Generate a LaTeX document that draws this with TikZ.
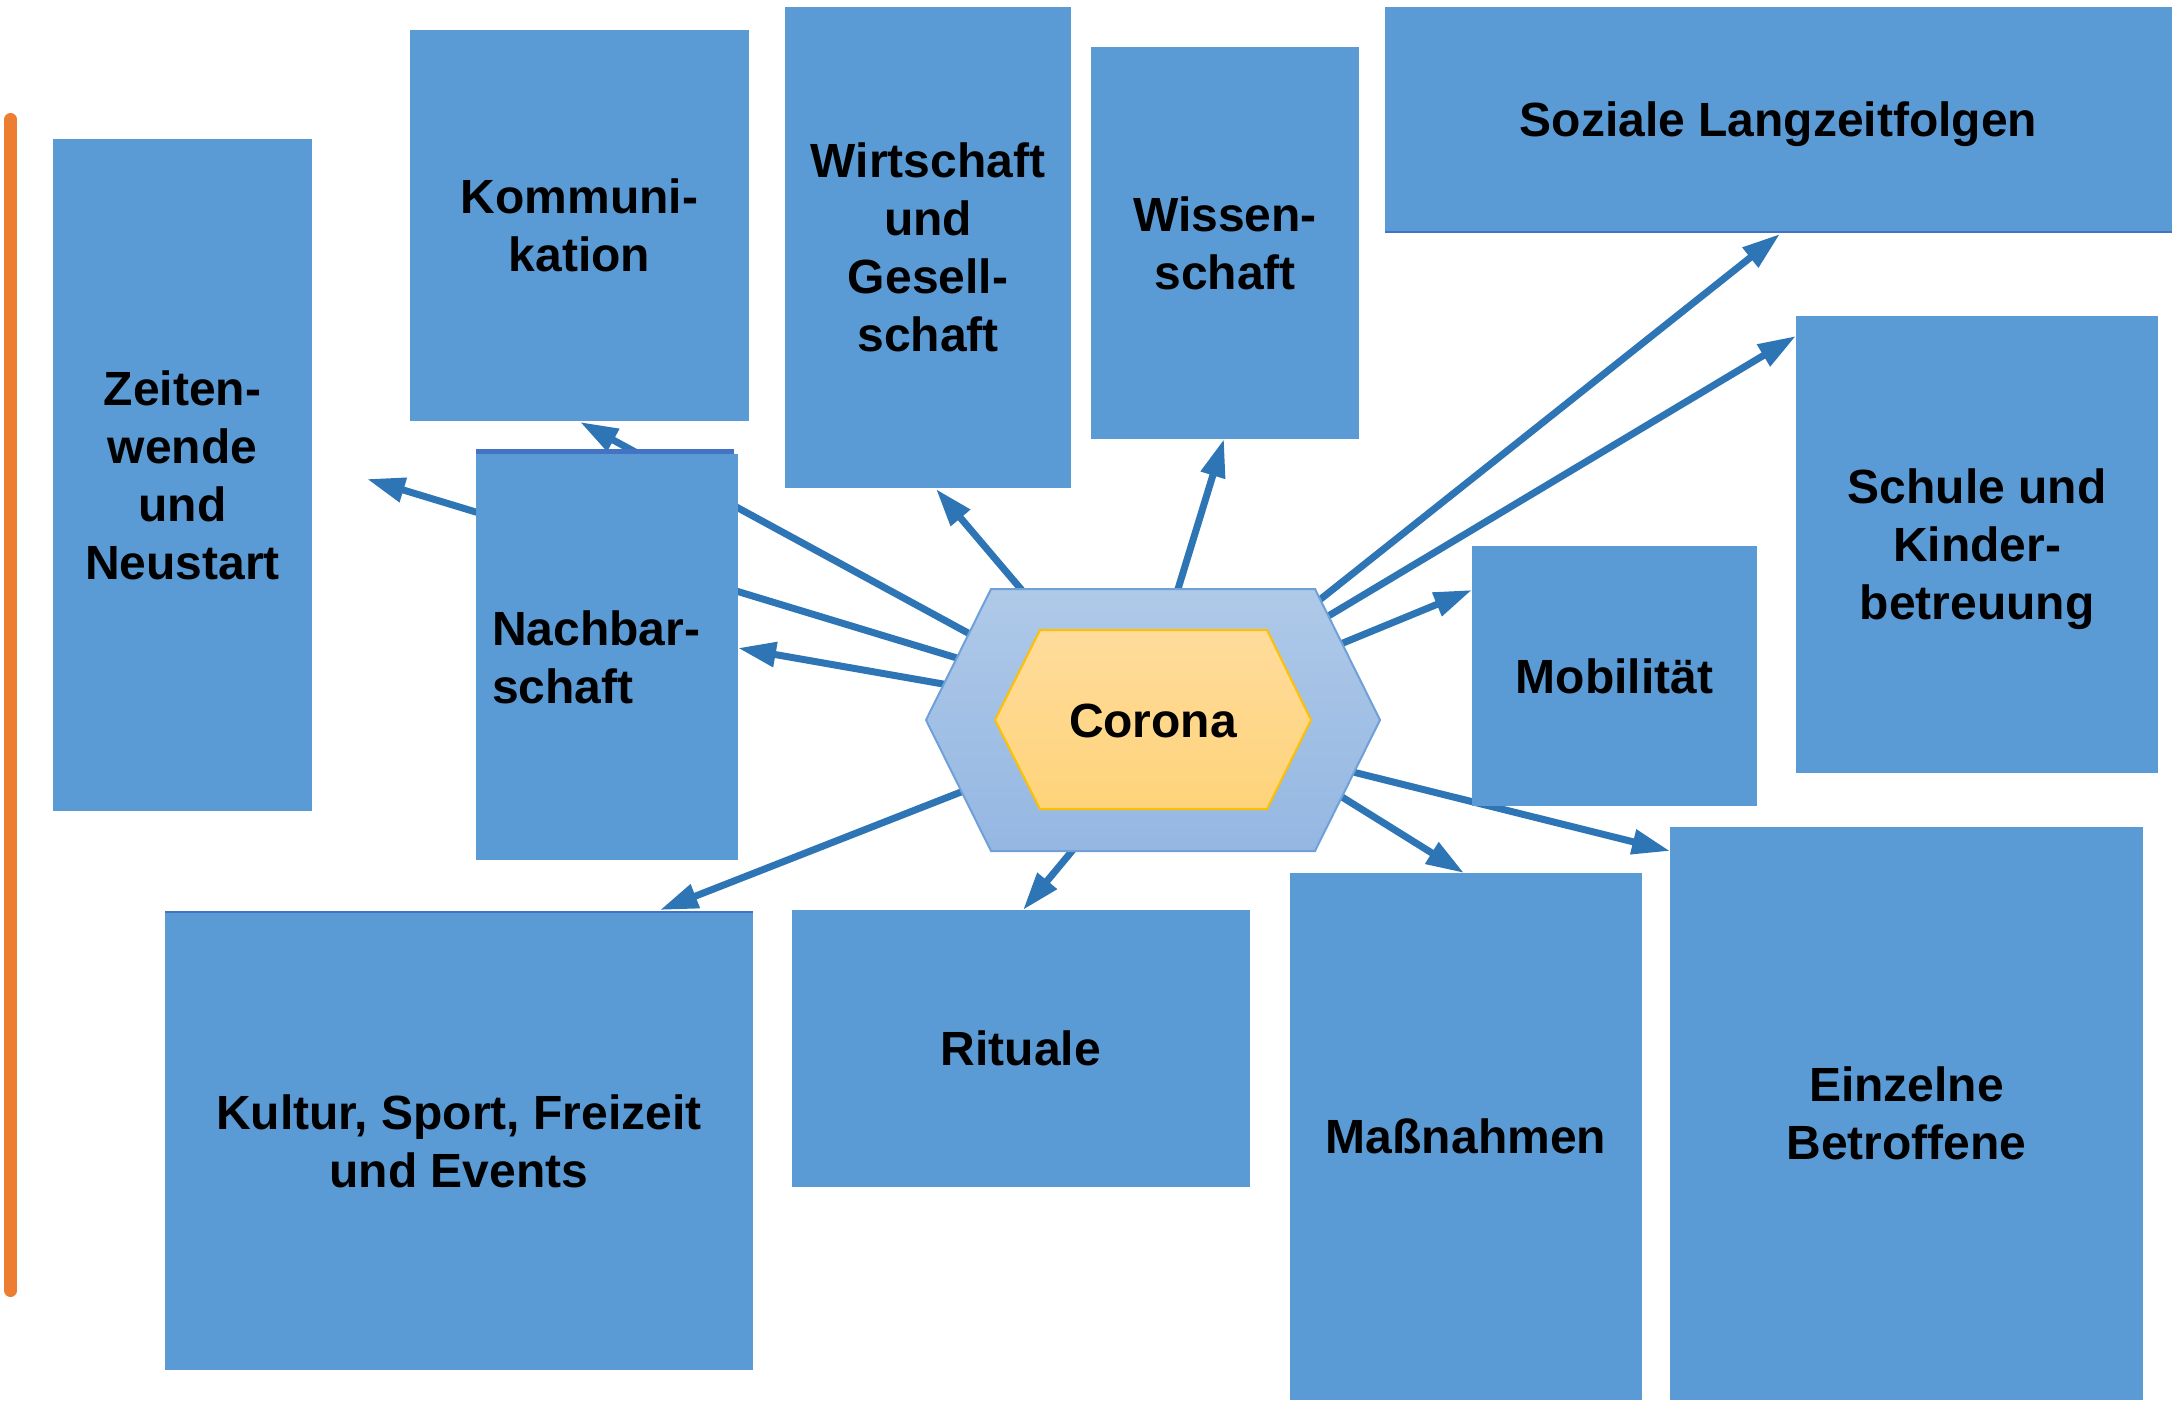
\documentclass[tikz,border=0pt]{standalone}
\usepackage{fontspec}
\setmainfont{Liberation Sans}
\usetikzlibrary{arrows.meta,calc}
\definecolor{boxblue}{HTML}{5B9BD5}
\definecolor{arrblue}{HTML}{2E75B6}
\definecolor{edgeblue}{HTML}{4472C4}
\definecolor{hexTop}{HTML}{AFC9E8}
\definecolor{hexBot}{HTML}{94B7E2}
\definecolor{hexLine}{HTML}{6FA0D8}
\definecolor{innTop}{HTML}{FFDC9C}
\definecolor{innBot}{HTML}{FED37A}
\definecolor{innLine}{HTML}{FFC000}
\definecolor{orangeL}{HTML}{ED7D31}
\begin{document}
\begin{tikzpicture}[x=1pt,y=-1pt,
  box/.style={fill=boxblue, draw=none, inner sep=0pt, align=center,
    font=\fontsize{48}{58}\selectfont\bfseries, text=black, text depth=0pt},
  arr/.style={draw=arrblue, line width=7pt, -{Triangle[length=38pt,width=24pt]}},
]
\useasboundingbox (0,0) rectangle (2177,1404);

% orange bar
\coordinate (o1) at (10.7,119.5);
\coordinate (o2) at (10.7,1290.5);
\draw[orangeL, line width=13pt, line cap=round] (o1) -- (o2);

% arrow start points (on hexagon border) and tips
\coordinate (sZeit) at (957,658);  \coordinate (tZeit) at (367,479);
\coordinate (sKomm) at (968,633);  \coordinate (tKomm) at (580,422);
\coordinate (sNach) at (943,684);  \coordinate (tNach) at (738,648);
\coordinate (sWirt) at (1020,588); \coordinate (tWirt) at (936,489);
\coordinate (sWiss) at (1178,589); \coordinate (tWiss) at (1224,439);
\coordinate (sSoz)  at (1322,598); \coordinate (tSoz)  at (1780,234);
\coordinate (sSch)  at (1330,615); \coordinate (tSch)  at (1796,336);
\coordinate (sMob)  at (1343,643); \coordinate (tMob)  at (1472,590);
\coordinate (sEinz) at (1353,772); \coordinate (tEinz) at (1670,851);
\coordinate (sMass) at (1342,797); \coordinate (tMass) at (1464,873);
\coordinate (sRit)  at (1072,851); \coordinate (tRit)  at (1023,910);
\coordinate (sKult) at (961,792);  \coordinate (tKult) at (660,910);

\foreach \n in {Zeit,Komm,Nach,Wirt,Wiss,Soz,Sch,Mob,Einz,Mass,Rit,Kult}{
  \draw[arr] ($(s\n)!-14pt!(t\n)$) -- (t\n);
}

% thin darker edges seen behind some boxes
\fill[edgeblue] (476,449) rectangle (734,456);
\fill[edgeblue] (165,911) rectangle (753,915);
\fill[edgeblue] (1385,229) rectangle (2172,233);

% boxes
\node[box, minimum width=259pt, minimum height=672pt] (zeit) at (182.5,475) {Zeiten-\\wende\\und\\Neustart};
\node[box, minimum width=339pt, minimum height=391pt] (komm) at (579.5,225.5) {Kommuni-\\kation};
\node[box, minimum width=286pt, minimum height=481pt] (wirt) at (928,247.5) {Wirtschaft\\und\\Gesell-\\schaft};
\node[box, minimum width=268pt, minimum height=392pt] (wiss) at (1225,243) {Wissen-\\schaft};
\node[box, minimum width=787pt, minimum height=224pt] (soz) at (1778.5,119) {Soziale Langzeitfolgen};
\node[box, minimum width=362pt, minimum height=457pt] (schule) at (1977,544.5) {Schule und\\Kinder-\\betreuung};
\node[box, minimum width=285pt, minimum height=260pt] (mob) at (1614.5,676) {Mobilität};
\node[box, align=left, text width=230pt, inner xsep=16pt, minimum height=406pt, text depth={}] (nach) at (607,657) {Nachbar-\\schaft};
\node[box, minimum width=588pt, minimum height=457pt] (kult) at (459,1141.5) {Kultur, Sport, Freizeit\\und Events};
\node[box, minimum width=458pt, minimum height=277pt] (rit) at (1021,1048.5) {Rituale};
\node[box, minimum width=352pt, minimum height=527pt] (mass) at (1466,1136.5) {Maßnahmen};
\node[box, minimum width=473pt, minimum height=573pt] (einz) at (1906.5,1113.5) {Einzelne\\Betroffene};

% hexagons
\path[draw=hexLine, line width=2pt, top color=hexTop, bottom color=hexBot]
  (991,589) -- (1315,589) -- (1380,720) -- (1315,851) -- (991,851) -- (926,720) -- cycle;
\path[draw=innLine, line width=2pt, top color=innTop, bottom color=innBot]
  (1040,630) -- (1267,630) -- (1311,720) -- (1267,809) -- (1040,809) -- (995,720) -- cycle;
\node[font=\fontsize{48}{58}\selectfont\bfseries, inner sep=0pt] (corona) at (1153,721) {Corona};
\end{tikzpicture}
\end{document}
